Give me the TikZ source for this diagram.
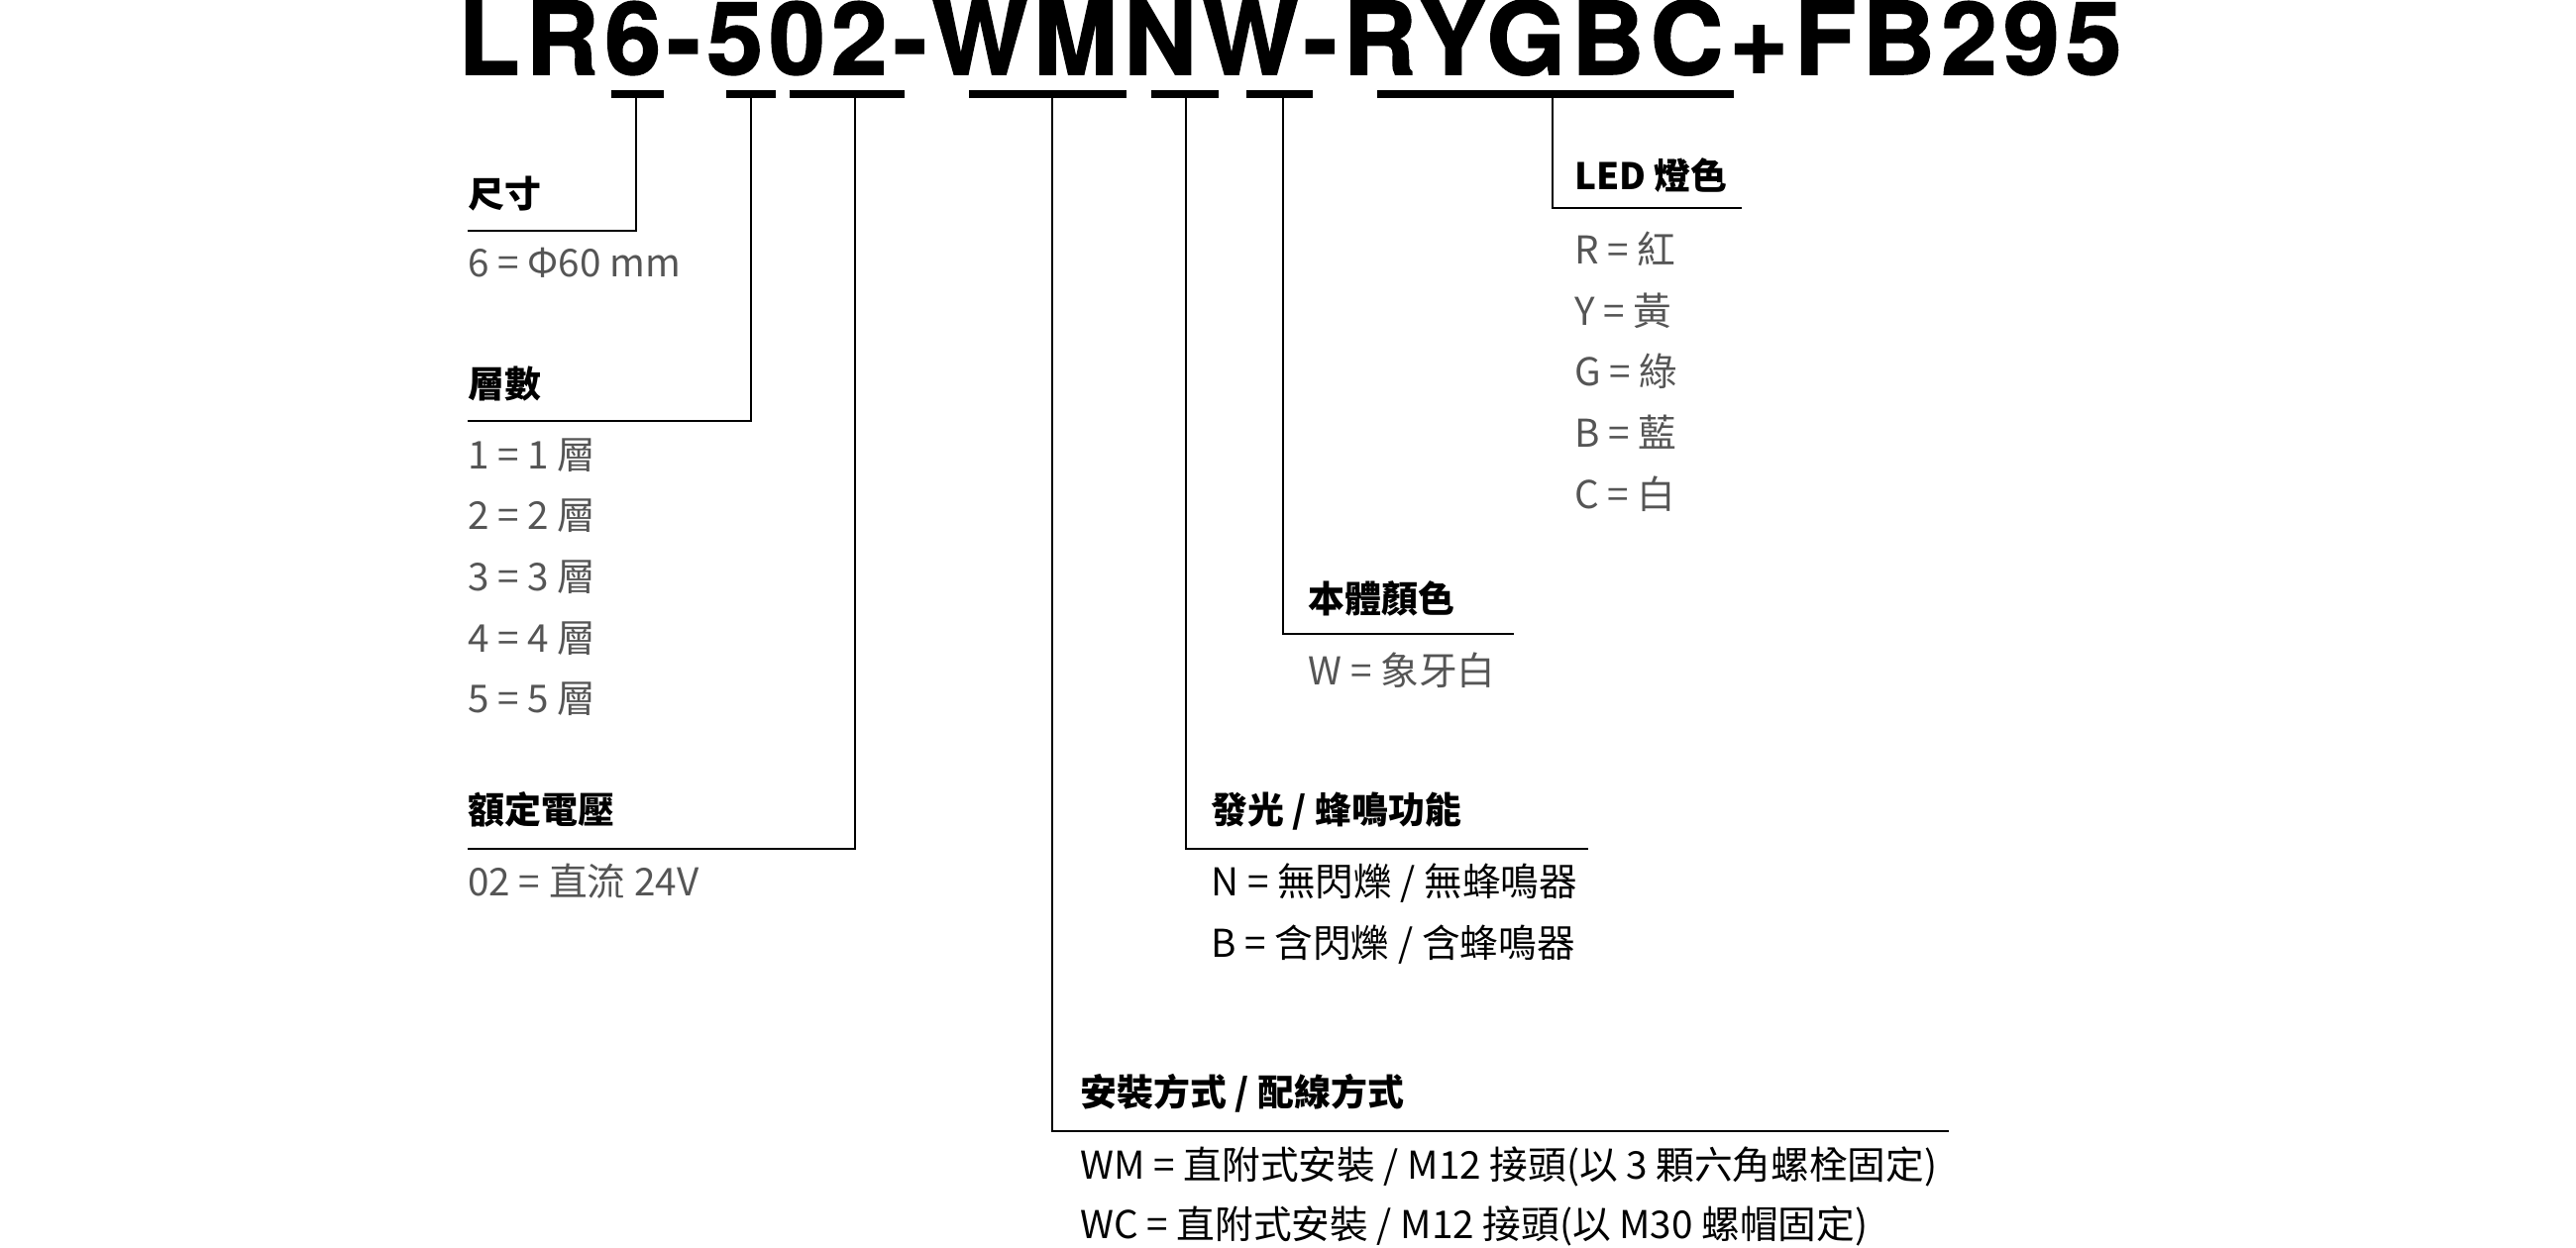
\documentclass[tikz,border=0pt]{standalone}
\usepackage{fontspec}
\setmainfont{Noto Sans CJK TC}
\newfontfamily\titlefont[LetterSpace=6,FakeBold=1.5]{TeX Gyre Heros}
\definecolor{itemgray}{HTML}{555555}
\tikzset{head/.style={anchor=base west, font=\fontsize{10.5}{12}\selectfont\bfseries, inner sep=0pt}}
\tikzset{item/.style={anchor=base west, font=\fontsize{11}{12}\selectfont, text=itemgray, inner sep=0pt}}
\tikzset{lead/.style={line width=0.6pt, black}}
\tikzset{bar/.style={line width=2.4pt, black}}
\newcommand{\eq}{\ =\ }
\begin{document}
\begin{tikzpicture}[x=0.016667cm, y=-0.016667cm]
	\useasboundingbox (0,0) rectangle (1560,756);
	% Title
	\node[anchor=base west, inner sep=0pt, font=\titlefont\fontsize{29}{32}\selectfont\bfseries] (title) at (277,45) {LR6-502-WMNW-RYGBC+FB295};

	% Underlines
	\draw[bar] (370,57) -- (402,57);
	\draw[bar] (440,57) -- (470,57);
	\draw[bar] (478,57) -- (548,57);
	\draw[bar] (587,57) -- (682,57);
	\draw[bar] (697,57) -- (738,57);
	\draw[bar] (755,57) -- (795,57);
	\draw[bar] (834,57) -- (1050,57);

	% Size
	\node[head] (size) at (283,126) {尺寸};
	\draw[lead] (385,57) |- (283,140);
	\node[item] (size1) at (283,168) {6\eq Φ60 mm};

	% Tiers
	\node[head] (tier) at (283,241) {層數};
	\draw[lead] (455,57) |- (283,255);
	\foreach \n [count=\i from 0] in {1,...,5}
		\node[item] (tier\n) at (283,284+37*\i) {\n\eq\n\ 層};

	% Voltage
	\node[head] (volt) at (283,499) {額定電壓};
	\draw[lead] (518,57) |- (283,514);
	\node[item] (volt1) at (283,543) {02\eq 直流 24V};

	% Mounting
	\node[head] (mount) at (654,670) {安裝方式 / 配線方式};
	\draw[lead] (637,57) |- (1180,685);
	\node[item, text=black] (mount1) at (654,714) {WM = 直附式安裝 / M12 接頭(以 3 顆六角螺栓固定)};
	\node[item, text=black] (mount2) at (654,750) {WC = 直附式安裝 / M12 接頭(以 M30 螺帽固定)};

	% Light / buzzer
	\node[head] (func) at (733,499) {發光 / 蜂鳴功能};
	\draw[lead] (718,57) |- (962,514);
	\node[item, text=black] (func1) at (733,543) {N = 無閃爍 / 無蜂鳴器};
	\node[item, text=black] (func2) at (733,580) {B = 含閃爍 / 含蜂鳴器};

	% Body colour
	\node[head] (body) at (792,371) {本體顏色};
	\draw[lead] (777,57) |- (917,384);
	\node[item] (body1) at (792,415) {W\eq 象牙白};

	% LED colour
	\node[head] (led) at (953,115) {LED 燈色};
	\draw[lead] (940,57) |- (1055,126);
	\foreach \c/\t [count=\i from 0] in {R/紅,Y/黃,G/綠,B/藍,C/白}
		\node[item] (led\c) at (953,160+37*\i) {\c\eq\t};
\end{tikzpicture}
\end{document}
